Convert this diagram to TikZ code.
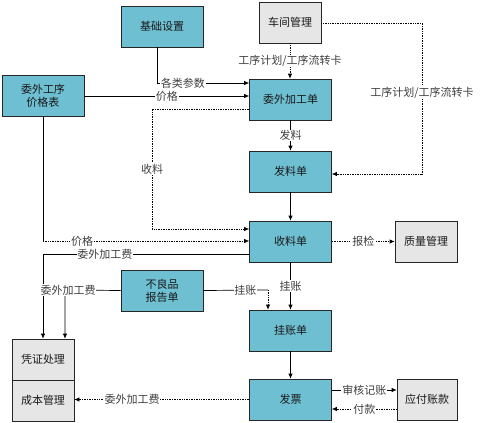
\documentclass[tikz,border=0pt]{standalone}
\usepackage{fontspec}
\setmainfont{Noto Sans CJK SC}
\usetikzlibrary{arrows.meta}
\definecolor{boxteal}{HTML}{6FBFD2}
\definecolor{boxgray}{HTML}{E6E6E6}
\definecolor{lbltext}{HTML}{404040}
\begin{document}
\begin{tikzpicture}[x=1pt,y=-1pt,
  box/.style={draw=black!85, line width=0.7pt, fill=boxteal, minimum width=82pt, minimum height=41pt,
    align=center, font=\fontsize{11}{13}\selectfont, text=black!90, inner sep=1pt},
  gbox/.style={box, fill=boxgray, minimum width=62pt},
  conn/.style={line width=0.7pt, -{Latex[length=5pt,width=4.5pt]}},
  plainline/.style={line width=0.7pt},
  dotline/.style={densely dotted},
  lbl/.style={fill=white, inner sep=0.8pt, font=\fontsize{11}{13}\selectfont, text=lbltext}
]
\useasboundingbox (0,0) rectangle (483,423);

% nodes
\node[box]  (jc)  at (162,26.5)  {基础设置};
\node[box]  (jgb) at (43,95.5)   {委外工序\\价格表};
\node[gbox] (cj)  at (290,22.5)  {车间管理};
\node[box]  (wwd) at (290.5,99.5) {委外加工单};
\node[box]  (fld) at (290.5,171.5) {发料单};
\node[box]  (sld) at (290.5,241.5) {收料单};
\node[gbox] (zl)  at (426,241.5) {质量管理};
\node[box]  (blp) at (162,290.5) {不良品\\报告单};
\node[box]  (gzd) at (290.5,330.5) {挂账单};
\node[box]  (fp)  at (290.5,399.5) {发票};
\node[gbox, minimum width=60pt] (yf) at (427,399.5) {应付账款};
\node[gbox] (pz)  at (43,359.5)  {凭证处理};
\node[gbox] (cb)  at (43,400.5)  {成本管理};

% coordinates
\coordinate (p1) at (157,83);
\coordinate (p2) at (0,96);
\coordinate (p3a) at (152,109);
\coordinate (p3b) at (152,229);
\coordinate (p4) at (43,241);
\coordinate (p5) at (43,254);
\coordinate (p6) at (65,290);
\coordinate (p7) at (268,290);
\coordinate (p10) at (0,390);
\coordinate (p11) at (0,409);
\coordinate (p15a) at (422,23);
\coordinate (p15b) at (422,174);

% connectors
\draw[conn] (jc.south -| p1) -- (p1) -- node[lbl,pos=0.28]{各类参数} (wwd.west |- p1);
\draw[conn] (jgb.east |- p2) -- node[lbl,pos=0.5]{价格} (wwd.west |- p2);
\draw[conn,dotline] (wwd.west |- p3a) -- (p3a) -- node[lbl]{收料} (p3b) -- (sld.west |- p3b);
\draw[plainline] (jgb.south) -- (p4);
\draw[conn,dotline] (p4) -- node[lbl,pos=0.19]{价格} (sld.west |- p4);
\draw[conn] (sld.west |- p5) -- node[lbl,pos=0.7]{委外加工费} (p5) -- (pz.north -| p5);
\draw[conn] (blp.west) -- node[lbl,pos=0.946]{委外加工费} (p6) -- (pz.north -| p6);
\draw[plainline] (blp.east) -- node[lbl,pos=0.65]{挂账} (p7);
\draw[conn,dotline] (p7) -- (gzd.north -| p7);
\draw[conn] (sld.south) -- node[lbl]{挂账} (gzd.north);
\draw[conn] (gzd.south) -- (fp.north);
\draw[conn] (fp.east |- p10) -- node[lbl]{审核记账} (yf.west |- p10);
\draw[conn,dotline] (yf.west |- p11) -- node[lbl]{付款} (fp.east |- p11);
\draw[conn,dotline] (fp.west) -- node[lbl,pos=0.67]{委外加工费} (cb.east |- fp.west);
\draw[conn,dotline] (sld.east) -- node[lbl]{报检} (zl.west);
\draw[conn,dotline] (cj.south) -- node[lbl]{工序计划/工序流转卡} (cj.south |- wwd.north);
\draw[conn,dotline] (cj.east |- p15a) -- (p15a) -- node[lbl,pos=0.46]{工序计划/工序流转卡} (p15b) -- (fld.east |- p15b);
\draw[conn] (wwd.south) -- node[lbl]{发料} (fld.north);
\draw[conn] (fld.south) -- (sld.north);
\end{tikzpicture}
\end{document}
